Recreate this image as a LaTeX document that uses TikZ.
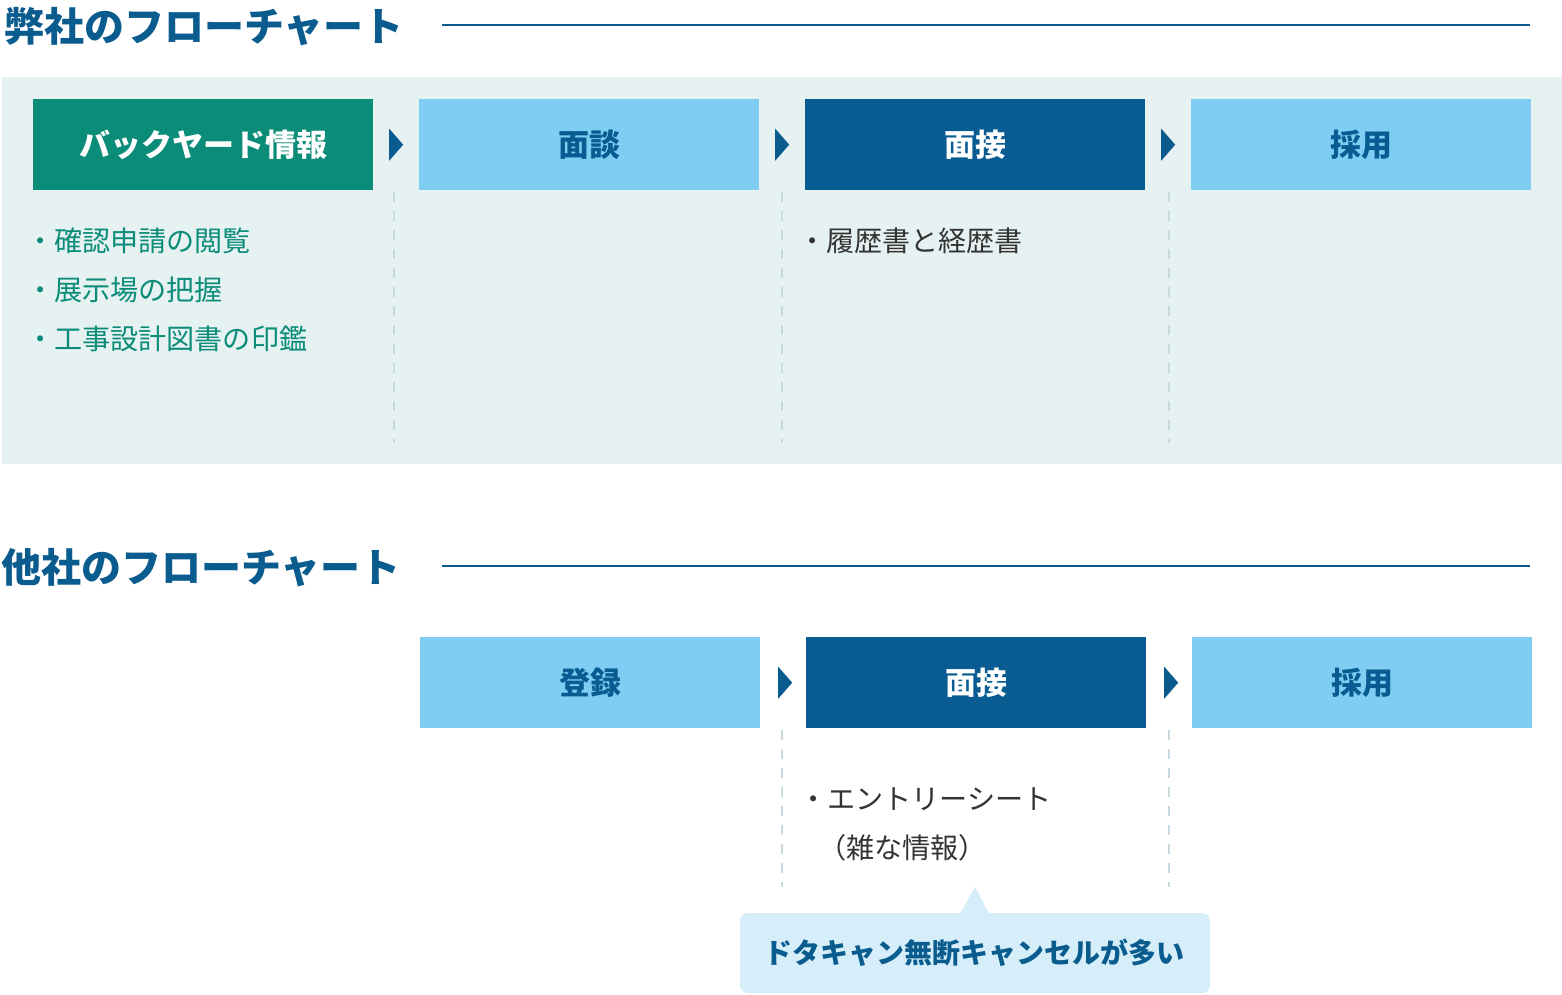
\documentclass[tikz,border=0pt]{standalone}
\usepackage{fontspec}
\setmainfont{Noto Sans CJK JP}
\usetikzlibrary{calc}
\definecolor{teal}{HTML}{0B8C79}
\definecolor{lblue}{HTML}{7FCDF2}
\definecolor{dblue}{HTML}{085C92}
\definecolor{tblue}{HTML}{0A5C8F}
\definecolor{panel}{HTML}{E6F1F2}
\definecolor{dashc}{HTML}{C6D9DE}
\definecolor{callc}{HTML}{D5EEF9}
\definecolor{gtext}{HTML}{333333}
\tikzset{
  stepbox/.style={minimum width=340pt,minimum height=91pt,inner sep=0pt,anchor=north west,
    font=\fontsize{31}{36}\selectfont\bfseries},
  lightbox/.style={stepbox,fill=lblue,text=dblue},
  darkbox/.style={stepbox,fill=dblue,text=white},
  tealbox/.style={stepbox,fill=teal,text=white},
  ttl/.style={anchor=west,inner sep=0pt,text=tblue,font=\fontsize{40}{46}\selectfont\bfseries},
  ttlline/.style={draw=tblue,line width=2pt},
  item/.style={anchor=west,inner sep=0pt,font=\fontsize{28.1}{33}\selectfont},
  sep/.style={draw=dashc,line width=2pt,dash pattern=on 10pt off 9pt},
  tri/.style={fill=tblue},
}
\begin{document}
\begin{tikzpicture}[x=1pt,y=-1pt]
\useasboundingbox (0,0) rectangle (1562,994);
\fill[white] (0,0) rectangle (1562,994);
% ---- section 1
\node[ttl] (t1) at (4,27) {弊社のフローチャート};
\coordinate (l1a) at (442,25); \coordinate (l1b) at (1530,25);
\draw[ttlline] (l1a) -- (l1b);
\fill[panel] (2,77) rectangle (1562,464);
\node[tealbox] (a1) at (33,99) {バックヤード情報};
\node[lightbox] (a2) at (419,99) {面談};
\node[darkbox] (a3) at (805,99) {面接};
\node[lightbox] (a4) at (1191,99) {採用};
\foreach \p/\q in {a1/a2,a2/a3,a3/a4}{
  \fill[tri] ($(\p.east)!0.5!(\q.west)$) ++(-7,-16) -- ++(14,16) -- ++(-14,16) -- cycle;
}
\foreach \x in {394,782,1169}{
  \draw[sep] (\x,192) -- (\x,443);
}
\node[item,text=teal] (i1) at (26,241) {・確認申請の閲覧};
\node[item,text=teal] (i2) at (26,290) {・展示場の把握};
\node[item,text=teal] (i3) at (26,339) {・工事設計図書の印鑑};
\node[item,text=gtext] (i4) at (798,241) {・履歴書と経歴書};
% ---- section 2
\node[ttl] (t2) at (1,568) {他社のフローチャート};
\coordinate (l2a) at (442,566); \coordinate (l2b) at (1530,566);
\draw[ttlline] (l2a) -- (l2b);
\node[lightbox] (b1) at (420,637) {登録};
\node[darkbox] (b2) at (806,637) {面接};
\node[lightbox] (b3) at (1192,637) {採用};
\foreach \p/\q in {b1/b2,b2/b3}{
  \fill[tri] ($(\p.east)!0.5!(\q.west)+(2,0)$) ++(-7,-16) -- ++(14,16) -- ++(-14,16) -- cycle;
}
\foreach \x in {782,1169}{
  \draw[sep] (\x,730) -- (\x,887);
}
\node[item,text=gtext] (i5) at (799,799) {・エントリーシート};
\node[item,text=gtext] (i6) at (818,848) {（雑な情報）};
% callout
\fill[callc,rounded corners=8pt] (740,913) rectangle (1210,993);
\fill[callc] (960,914) -- (975,887) -- (989,914) -- cycle;
\node[anchor=center,inner sep=0pt,text=tblue,font=\fontsize{28}{33}\selectfont\bfseries] (c) at (974,953) {ドタキャン無断キャンセルが多い};
\end{tikzpicture}
\end{document}
